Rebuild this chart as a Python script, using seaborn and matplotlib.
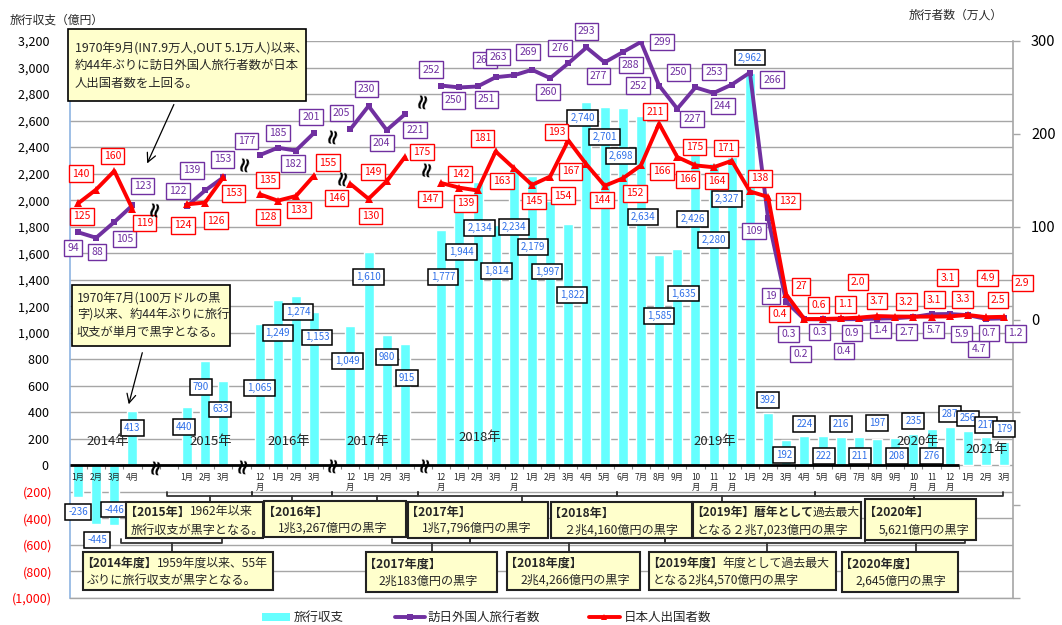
import numpy as np
import pandas as pd
import matplotlib
matplotlib.use("Agg")
import matplotlib.pyplot as plt
import seaborn as sns
from matplotlib.patches import Rectangle

# ---------------- data ----------------
month_labels = ['1月', '2月', '3月', '4月', None, None,
                '1月', '2月', '3月', None,
                '12月', '1月', '2月', '3月', None,
                '12月', '1月', '2月', '3月', None,
                '12月', '1月', '2月', '3月', '12月',
                '1月', '2月', '3月', '4月', '5月', '6月', '7月', '8月', '9月', '10月', '11月', '12月',
                '1月', '2月', '3月', '4月', '5月', '6月', '7月', '8月', '9月', '10月', '11月', '12月',
                '1月', '2月', '3月']

# 旅行収支（億円）
balance = [-236, -445, -446, 413, None, None, 440, 790, 633, None,
           1065, 1249, 1274, 1153, None, 1049, 1610, 980, 915, None,
           1777, 1944, 2134, 1814, 2234,
           2179, 1997, 1822, 2740, 2701, 2698, 2634, 1585, 1635, 2426, 2280, 2327,
           2962, 392, 192, 224, 222, 216, 211, 197, 208, 235, 276, 287,
           256, 217, 179]

# 訪日外国人旅行者数（万人）
visitors = [94, 88, 105, 123, None, None, 122, 139, 153, None,
            177, 185, 182, 201, None, 205, 230, 204, 221, None,
            252, 250, 251, 261, 263,
            269, 260, 276, 293, 277, 288, 299, 252, 227, 250, 244, 253,
            266, 109, 19, 0.3, 0.2, 0.3, 0.4, 0.9, 1.4, 2.7, 5.7, 5.9,
            4.7, 0.7, 1.2]

# 日本人出国者数（万人）
outbound = [125, 140, 160, 119, None, None, 124, 126, 153, None,
            135, 128, 133, 155, None, 146, 130, 149, 175, None,
            147, 142, 139, 181, 163,
            145, 154, 193, 167, 144, 152, 166, 211, 175, 166, 164, 171,
            138, 132, 27, 0.4, 0.6, 1.1, 2.0, 3.7, 3.2, 3.1, 3.1, 3.3,
            4.9, 2.5, 2.9]

year_labels = ['2014年', '2015年', '2016年', '2017年', '2018年', '2019年', '2020年', '2021年']
left_ticks = list(range(-1000, 3201, 200))
right_ticks = [-300, -200, -100, 0, 100, 200, 300]

note_top = ["1970年9月(IN7.9万人,OUT 5.1万人)以来、",
            "約44年ぶりに訪日外国人旅行者数が日本",
            "人出国者数を上回る。"]
note_mid = ["1970年7月(100万ドルの黒",
            "字)以来、約44年ぶりに旅行",
            "収支が単月で黒字となる。"]

# ---------------- layout (pixel offsets of labels, not data) ----------------
bar_off = [(0, -15), (1, -16), (0, 15), (0, -17), None, None, (-3, -20), (-4, -26), (-3, -28), None,
           (0, -64), (0, -33), (2, -16), (3, -25), None, (-3, -35), (0, -25), (0, -22), (2, -34), None,
           (2, -47), (2, -44), (2, -46), (1, -46), (0, -58),
           (1, -71), (-3, -71), (4, -71), (-4, -16), (0, -30), (-2, -48), (2, -101), (0, -61), (6, -45),
           (-3, -75), (0, -77), (-5, -42),
           (0, 15), (0, 13), (-2, -15), (0, 12), (1, -20), (0, 13), (1, -19), (0, 16), (2, -18), (0, 13),
           (0, -27), (0, 13),
           (0, 13), (0, 12), (0, 13)]
vis_off = [(-5, -16), (1, -14), (10, -17), (10, 19), None, None, (-9, 15), (-13, 20), (-1, 18), None,
           (-13, 14), (0, 15), (-3, -13), (-3, 16), None, (-9, 16), (-2, 17), (-5, -13), (10, -16), None,
           (-10, 16), (-6, -13), (9, -13), (-11, 17), (-16, 18),
           (-4, 18), (-2, -14), (-8, 15), (0, 16), (-6, -14), (8, -13), (21, 0), (-21, 0), (15, -10),
           (-17, 15), (9, -13), (-18, 13),
           (22, -7), (-14, -13), (-15, 6), (-16, -15), (-22, -35), (-21, -13), (-15, -32), (-25, -14),
           (-15, -12), (-7, -15), (2, -16), (12, -20),
           (11, -34), (3, -14), (11, -15)]
out_off = [(4, -13), (-15, 16), (-2, 15), (12, -14), None, None, (-4, -21), (11, -18), (10, -16), None,
           (8, 14), (-10, -16), (3, -14), (14, 13), None, (-14, -14), (2, -17), (-14, 9), (17, 5), None,
           (-11, -16), (1, 14), (-12, -13), (-13, 13), (-12, -13),
           (2, -16), (13, -19), (-12, 8), (-16, -7), (-3, -14), (12, -15), (21, -6), (-4, 12), (17, 10),
           (-8, -14), (3, -14), (-6, 13),
           (10, 13), (20, -4), (15, 8), (-25, 5), (-4, 14), (5, 14), (-1, 36), (0, 15), (11, 15),
           (21, 17), (16, 39), (13, 17),
           (20, 37), (12, 17), (18, 34)]

CYAN = '#66FFFF'
PURPLE = '#7030A0'
RED = '#FF0000'
BLUE = '#2E6FE8'
NOTE_FC = '#FFFFCC'

# ---------------- figure ----------------
sns.set_theme(style="white")
plt.rcParams['font.family'] = ['Noto Sans CJK JP', 'DejaVu Sans']
plt.rcParams['axes.unicode_minus'] = False

W, H = 1062, 625
fig = plt.figure(figsize=(W / 100, H / 100), dpi=100)
fig.patch.set_facecolor('white')

AX_L, AX_R, AX_T, AX_B = 70, 1013, 41, 598
ax = fig.add_axes([AX_L / W, 1 - AX_B / H, (AX_R - AX_L) / W, (AX_B - AX_T) / H])

n = len(month_labels)
df = pd.DataFrame({'slot': np.arange(n, dtype=float),
                   'balance': pd.to_numeric(pd.Series(balance), errors='coerce'),
                   'visitors': pd.to_numeric(pd.Series(visitors), errors='coerce'),
                   'outbound': pd.to_numeric(pd.Series(outbound), errors='coerce')})
df['seg'] = df['balance'].isna().cumsum()
dfb = df.dropna(subset=['balance'])

sns.barplot(data=dfb, x='slot', y='balance', native_scale=True, color=CYAN,
            saturation=1, width=0.55, errorbar=None, ax=ax, zorder=2)

XL = (-0.4405, 51.487)
ax.set_xlim(*XL)
ax.set_ylim(-1000, 3200)
ax.set_xticks([])
ax.set_xlabel('')
ax.set_ylabel('')
ax.set_yticks(left_ticks)
ax.set_yticklabels([f"({abs(v):,})" if v < 0 else f"{v:,} " for v in left_ticks], fontsize=9)
for lab, v in zip(ax.get_yticklabels(), left_ticks):
    lab.set_color(RED if v < 0 else 'black')
ax.tick_params(axis='y', length=0, pad=13)
ax.yaxis.grid(True, color='#A6A6A6', lw=1.0)
ax.xaxis.grid(False)
ax.set_axisbelow(True)
for s in ['top', 'right']:
    ax.spines[s].set_visible(False)
ax.spines['left'].set_color('#8DB4E2')
ax.spines['left'].set_linewidth(1.2)
ax.spines['bottom'].set_color('#A6A6A6')
ax.spines['bottom'].set_linewidth(1.0)

# zero line and category ticks
ax.plot([XL[0], 48.5], [0, 0], color='black', lw=2.0, zorder=4, solid_capstyle='butt')
ax.vlines(np.arange(-0.5, 49, 1.0), -28, 0, colors='#808080', lw=0.8, zorder=3)

# month labels
for i, m in enumerate(month_labels):
    if m is None:
        continue
    txt = m if len(m) <= 2 else m[:-1] + '\n月'
    ax.annotate(txt, xy=(i, 0), xytext=(0, -8), textcoords='offset pixels',
                ha='center', va='top', fontsize=6, linespacing=1.15, annotation_clip=False, zorder=5)

# right axis with lines
ax2 = ax.twinx()
ax2.set_ylim(-300, 300)
ax2.set_yticks(right_ticks)
ax2.set_yticklabels(['' if v < 0 else str(v) for v in right_ticks], fontsize=10.5, color='black')
ax2.tick_params(axis='y', length=5, width=1, color='#A6A6A6', direction='out', pad=8)
for s in ['top', 'left', 'bottom']:
    ax2.spines[s].set_visible(False)
ax2.spines['right'].set_color('#A6A6A6')
ax2.spines['right'].set_linewidth(1.2)

dfv = df.dropna(subset=['visitors'])
sns.lineplot(data=dfv, x='slot', y='visitors', units='seg', estimator=None, sort=False,
             color=PURPLE, lw=2.8, marker='s', markersize=5, markeredgewidth=0,
             legend=False, ax=ax2, zorder=5)
dfo = df.dropna(subset=['outbound'])
sns.lineplot(data=dfo, x='slot', y='outbound', units='seg', estimator=None, sort=False,
             color=RED, lw=2.8, marker='^', markersize=6, markeredgewidth=0,
             legend=False, ax=ax2, zorder=6)
ax2.set_xlabel('')
ax2.set_ylabel('')
ax2.set_xlim(*XL)
ax2.set_xticks([])


def fmt_line(v):
    return f"{v:.1f}" if v < 10 else f"{v:.0f}"


z = 10
for i in range(n):
    v = df.loc[i, 'balance']
    if not np.isnan(v):
        ax2.annotate(f"{int(v):,}", xy=(i, v), xycoords=ax.transData, xytext=bar_off[i],
                     textcoords='offset pixels', ha='center', va='center', fontsize=7, color=BLUE,
                     bbox=dict(boxstyle='square,pad=0.3', fc='white', ec='black', lw=1.1),
                     annotation_clip=False, zorder=z)
        z += 0.01
for i in range(n):
    v = df.loc[i, 'visitors']
    if not np.isnan(v):
        ax2.annotate(fmt_line(v), xy=(i, v), xytext=vis_off[i], textcoords='offset pixels',
                     ha='center', va='center', fontsize=7.5, color=PURPLE,
                     bbox=dict(boxstyle='square,pad=0.3', fc='white', ec=PURPLE, lw=1.0),
                     annotation_clip=False, zorder=z)
        z += 0.01
for i in range(n):
    v = df.loc[i, 'outbound']
    if not np.isnan(v):
        ax2.annotate(fmt_line(v), xy=(i, v), xytext=out_off[i], textcoords='offset pixels',
                     ha='center', va='center', fontsize=7.5, color=RED,
                     bbox=dict(boxstyle='square,pad=0.3', fc='white', ec=RED, lw=1.0),
                     annotation_clip=False, zorder=z)
        z += 0.01

# ---------------- overlay (pixel coordinates) ----------------
ov = fig.add_axes([0, 0, 1, 1])
ov.set_xlim(0, W)
ov.set_ylim(H, 0)
ov.axis('off')

ov.text(10, 20, '旅行収支（億円）', fontsize=8.5, ha='left', va='center')
ov.text(1003, 15, '旅行者数（万人）', fontsize=8.5, ha='right', va='center')

# year labels
year_pos = [(108, 442), (211, 442), (289, 442), (368, 442), (480, 438), (715, 442), (918, 442), (987, 450)]
for lab, (x, y) in zip(year_labels, year_pos):
    ov.text(x, y, lab, fontsize=9.5, ha='center', va='center', zorder=6)

# break marks
for x, y in [(156, 466), (243, 465), (333, 464), (425, 464),
             (155, 208), (245, 163), (333, 135), (343, 177), (423, 100), (427, 168)]:
    ov.text(x, y, '≈', fontsize=15, fontweight='bold', rotation=80, ha='center', va='center',
            family='DejaVu Sans', color='black', zorder=8)


def box(x0, y0, x1, y1, lw=1.5, ec='#222222'):
    ov.add_patch(Rectangle((x0, y0), x1 - x0, y1 - y0, fc=NOTE_FC, ec=ec, lw=lw, zorder=5))


def rich(x, y, parts, fs=8.7):
    t = ov.text(x, y, parts[0][0], fontsize=fs, fontweight=parts[0][1], ha='left', va='center', zorder=7)
    for s, w in parts[1:]:
        t = ov.annotate(s, xy=(1, 0.5), xycoords=t, fontsize=fs, fontweight=w,
                        ha='left', va='center', zorder=7)


# top-left notes
box(68, 29, 306, 101, lw=1.2, ec='black')
for k, line in enumerate(note_top):
    ov.text(75, 48 + 17.5 * k, line, fontsize=8.9, ha='left', va='center', zorder=7)
ov.annotate('', xy=(146, 166), xytext=(175, 102),
            arrowprops=dict(arrowstyle='->', color='black', lw=0.9, mutation_scale=16), zorder=7)

box(72, 285, 230, 346, lw=1.2, ec='black')
for k, line in enumerate(note_mid):
    ov.text(77, 298 + 17 * k, line, fontsize=8.8, ha='left', va='center', zorder=7)
ov.annotate('', xy=(128, 407), xytext=(143, 350),
            arrowprops=dict(arrowstyle='->', color='black', lw=0.9, mutation_scale=16), zorder=7)


def bracket(x0, x1, xc, y, up=4, down=5):
    ov.plot([x0, x0, x1, x1], [y - up, y, y, y - up], color='#333333', lw=1.3, zorder=4)
    ov.plot([xc, xc], [y, y + down], color='#333333', lw=1.3, zorder=4)


for x0, x1, xc in [(167, 252, 210), (252, 332, 292), (332, 418, 377),
                   (418, 617, 522), (617, 815, 722), (815, 1003, 914)]:
    bracket(x0, x1, xc, 496, up=4, down=5)
for x0, x1, xc in [(121, 222, 172), (392, 470, 432), (470, 665, 569),
                   (665, 865, 767), (865, 965, 916)]:
    bracket(x0, x1, xc, 543, up=4, down=9)

B, N = 'bold', 'normal'
# top row boxes
box(126, 502, 263, 538)
rich(125, 512, [('【2015年】', B), ('1962年以来', N)])
rich(131, 530, [('旅行収支が黒字となる。', N)])

box(264, 501, 406, 537)
rich(263, 512, [('【2016年】', B)])
rich(278, 528, [('1兆3,267億円の黒字', N)])

box(408, 502, 548, 538)
rich(406, 512, [('【2017年】', B)])
rich(422, 528, [('1兆7,796億円の黒字', N)])

box(551, 502, 692, 538)
rich(549, 513, [('【2018年】', B)])
rich(563, 530, [('２兆4,160億円の黒字', N)])

box(693, 502, 861, 538)
rich(691, 512, [('【2019年】暦年として', B), ('過去最大', N)], fs=8.5)
rich(697, 530, [('となる２兆7,023億円の黒字', N)])

box(865, 499, 976, 540)
rich(864, 512, [('【2020年】', B)])
rich(879, 530, [('5,621億円の黒字', N)])

# bottom row boxes
box(83, 552, 273, 590)
rich(81, 563, [('【2014年度】', B), ('1959年度以来、55年', N)], fs=8.6)
rich(87, 580, [('ぶりに旅行収支が黒字となる。', N)])

box(366, 552, 497, 592)
rich(364, 564, [('【2017年度】', B)])
rich(378, 581, [('2兆183億円の黒字', N)])

box(507, 552, 640, 590)
rich(505, 563, [('【2018年度】', B)])
rich(520, 580, [('2兆4,266億円の黒字', N)])

box(649, 552, 836, 590)
rich(647, 563, [('【2019年度】', B), ('年度として過去最大', N)], fs=8.6)
rich(653, 580, [('となる2兆4,570億円の黒字', N)])

box(842, 552, 958, 592)
rich(840, 564, [('【2020年度】', B)])
rich(855, 581, [('2,645億円の黒字', N)])

# legend
ov.add_patch(Rectangle((262, 613), 28, 8, fc=CYAN, ec='none', zorder=5))
ov.text(294, 617, '旅行収支', fontsize=9, ha='left', va='center')
ov.plot([395, 425], [617, 617], color=PURPLE, lw=2.8, zorder=5)
ov.plot([410], [617], color=PURPLE, marker='s', markersize=5, markeredgewidth=0, zorder=6)
ov.text(428, 617, '訪日外国人旅行者数', fontsize=9, ha='left', va='center')
ov.plot([589, 620], [617, 617], color=RED, lw=2.8, zorder=5)
ov.plot([604], [617], color=RED, marker='^', markersize=4, markeredgewidth=0, zorder=6)
ov.text(624, 617, '日本人出国者数', fontsize=9, ha='left', va='center')

fig.savefig('out.png', dpi=100)
